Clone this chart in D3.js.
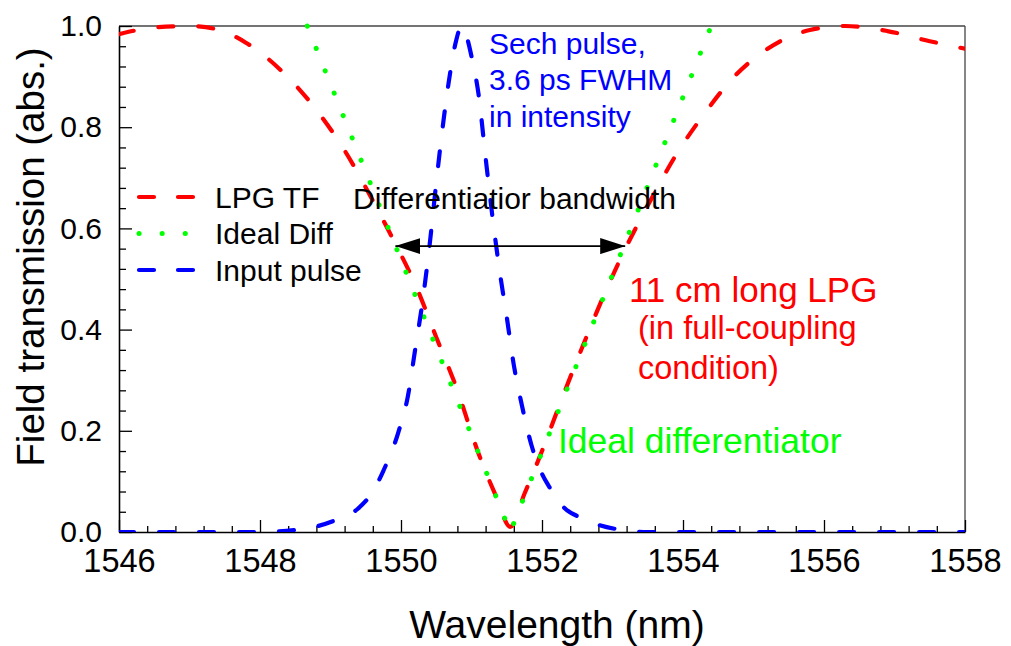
<!DOCTYPE html>
<html>
<head>
<meta charset="utf-8">
<script src="https://cdn.jsdelivr.net/npm/d3@7/dist/d3.min.js"></script>
<style>
  body { margin: 0; background: #fff; }
  svg { display: block; font-family: "Liberation Sans", Arial, sans-serif; }
</style>
</head>
<body>
<svg id="chart" width="1011" height="646"></svg>
<script>
// LPG transfer function (field transmission)
const lpgWavelength = [1546.0, 1546.5, 1547.0, 1547.4, 1547.8, 1548.3, 1548.8, 1549.2, 1549.6, 1549.9,
  1550.2, 1550.5, 1550.8, 1551.1, 1551.35, 1551.55, 1551.75, 1552.0, 1552.3, 1552.6, 1552.9, 1553.2,
  1553.5, 1553.9, 1554.3, 1554.7, 1555.2, 1555.8, 1556.3, 1556.9, 1557.5, 1558.0];
const lpgTransmission = [0.984, 0.997, 1.000, 0.993, 0.967, 0.912, 0.834, 0.754, 0.655, 0.575,
  0.49, 0.385, 0.28, 0.155, 0.07, 0.01, 0.075, 0.16, 0.27, 0.375, 0.475, 0.565,
  0.645, 0.745, 0.826, 0.896, 0.955, 0.992, 1.000, 0.990, 0.970, 0.955];

// Ideal differentiator response
const idealWavelength = [1548.67, 1551.55, 1554.40];
const idealTransmission = [1.0, 0.0, 1.0];

// Input sech pulse spectrum
const pulseWavelength = [1546.0, 1548.0, 1548.5, 1548.8, 1549.1, 1549.38, 1549.6, 1549.75, 1549.96, 1550.1,
  1550.2, 1550.3, 1550.4, 1550.5, 1550.6, 1550.7, 1550.78, 1550.86, 1550.94, 1551.0, 1551.1, 1551.2,
  1551.3, 1551.4, 1551.5, 1551.6, 1551.7, 1551.85, 1552.0, 1552.1, 1552.3, 1552.57, 1553.13, 1553.5, 1558.0];
const pulseAmplitude = [0, 0, 0.004, 0.011, 0.025, 0.045, 0.08, 0.121, 0.196, 0.27,
  0.36, 0.45, 0.56, 0.69, 0.81, 0.91, 0.97, 1.0, 0.975, 0.94, 0.865, 0.74,
  0.62, 0.515, 0.425, 0.33, 0.26, 0.172, 0.115, 0.09, 0.05, 0.027, 0.004, 0, 0];

// Differentiator bandwidth marker
const bandwidthEdges = [1549.92, 1553.18];
const bandwidthLevel = 0.565;

// Axis ticks
const xMajorTicks = [1546, 1548, 1550, 1552, 1554, 1556, 1558];
const yMajorTicks = [0.0, 0.2, 0.4, 0.6, 0.8, 1.0];
const xMinorStep = 0.4;
const yMinorStep = 0.04;

const legendLabels = ["LPG TF", "Ideal Diff", "Input pulse"];

const svg = d3.select("#chart");
const plotLeft = 119, plotRight = 965, plotTop = 26, plotBottom = 532;

const x = d3.scaleLinear().domain([1546, 1558]).range([plotLeft, plotRight]);
const y = d3.scaleLinear().domain([0, 1]).range([plotBottom, plotTop]);

const RED = "#ff0000", GREEN = "#00ff00", BLUE = "#0000ff";

// frame: top and right edges
svg.append("line").attr("x1", plotLeft).attr("x2", plotRight).attr("y1", plotTop).attr("y2", plotTop)
  .attr("stroke", "#444").attr("stroke-width", 1.3);
svg.append("line").attr("x1", plotRight).attr("x2", plotRight).attr("y1", plotTop).attr("y2", plotBottom)
  .attr("stroke", "#444").attr("stroke-width", 1.3);

// minor ticks
const xMinor = d3.range(1546, 1558.001, xMinorStep).filter(v => Math.abs(v / 2 - Math.round(v / 2)) > 1e-6);
const yMinor = d3.range(0, 1.0001, yMinorStep).filter(v => Math.abs(v / 0.2 - Math.round(v / 0.2)) > 1e-6);

svg.append("g").attr("transform", `translate(0,${plotBottom})`)
  .call(d3.axisBottom(x).tickValues(xMinor).tickSizeInner(-6).tickSizeOuter(0).tickFormat(""))
  .call(g => g.select(".domain").remove())
  .call(g => g.selectAll("line").attr("stroke", "#000").attr("stroke-width", 1.3));

svg.append("g").attr("transform", `translate(${plotLeft},0)`)
  .call(d3.axisLeft(y).tickValues(yMinor).tickSizeInner(-7).tickSizeOuter(0).tickFormat(""))
  .call(g => g.select(".domain").remove())
  .call(g => g.selectAll("line").attr("stroke", "#000").attr("stroke-width", 1.3));

// major axes
svg.append("g").attr("transform", `translate(0,${plotBottom})`)
  .call(d3.axisBottom(x).tickValues(xMajorTicks).tickSizeInner(-12).tickSizeOuter(0).tickPadding(17)
    .tickFormat(d3.format("d")))
  .call(g => g.select(".domain").attr("stroke", "#000").attr("stroke-width", 1.6))
  .call(g => g.selectAll("line").attr("stroke", "#000").attr("stroke-width", 1.3))
  .call(g => g.selectAll("text").attr("font-size", 32.5).attr("fill", "#000")
    .attr("font-family", "Liberation Sans, Arial, sans-serif"));

svg.append("g").attr("transform", `translate(${plotLeft},0)`)
  .call(d3.axisLeft(y).tickValues(yMajorTicks).tickSizeInner(-13).tickSizeOuter(0).tickPadding(17)
    .tickFormat(d3.format(".1f")))
  .call(g => g.select(".domain").attr("stroke", "#000").attr("stroke-width", 1.6))
  .call(g => g.selectAll("line").attr("stroke", "#000").attr("stroke-width", 1.3))
  .call(g => g.selectAll("text").attr("font-size", 30).attr("fill", "#000")
    .attr("font-family", "Liberation Sans, Arial, sans-serif"));

// axis titles
svg.append("text").attr("x", 557).attr("y", 638).attr("text-anchor", "middle")
  .attr("font-size", 39).attr("fill", "#000").text("Wavelength (nm)");
svg.append("text").attr("transform", `translate(44,257) rotate(-90)`).attr("text-anchor", "middle")
  .attr("font-size", 38.5).attr("fill", "#000").text("Field transmission (abs.)");

// curves
svg.append("clipPath").attr("id", "plotClip").append("rect")
  .attr("x", plotLeft).attr("y", plotTop - 3).attr("width", plotRight - plotLeft).attr("height", plotBottom - plotTop + 3);

const plot = svg.append("g").attr("clip-path", "url(#plotClip)");

const line = d3.line().x(d => x(d[0])).y(d => y(d[1]));

plot.append("path")
  .datum(d3.zip(lpgWavelength, lpgTransmission))
  .attr("d", line.curve(d3.curveMonotoneX))
  .attr("fill", "none").attr("stroke", RED).attr("stroke-width", 4.2)
  .attr("stroke-linecap", "round").attr("stroke-dasharray", "15,25");

plot.append("path")
  .datum(d3.zip(idealWavelength, idealTransmission))
  .attr("d", line.curve(d3.curveLinear))
  .attr("fill", "none").attr("stroke", GREEN).attr("stroke-width", 5)
  .attr("stroke-linecap", "round").attr("stroke-dasharray", "0.1,24");

plot.append("path")
  .datum(d3.zip(pulseWavelength, pulseAmplitude))
  .attr("d", line.curve(d3.curveMonotoneX))
  .attr("fill", "none").attr("stroke", BLUE).attr("stroke-width", 4.2)
  .attr("stroke-linecap", "round").attr("stroke-dasharray", "15,25");

// bandwidth arrow
const defs = svg.append("defs");
defs.append("marker").attr("id", "arrowHead").attr("viewBox", "0 0 25 16")
  .attr("refX", 25).attr("refY", 8).attr("markerWidth", 25).attr("markerHeight", 16)
  .attr("markerUnits", "userSpaceOnUse").attr("orient", "auto-start-reverse")
  .append("path").attr("d", "M0,0 L25,8 L0,16 Z").attr("fill", "#000");

svg.append("line")
  .attr("x1", x(bandwidthEdges[0])).attr("x2", x(bandwidthEdges[1]))
  .attr("y1", y(bandwidthLevel)).attr("y2", y(bandwidthLevel))
  .attr("stroke", "#000").attr("stroke-width", 1.6)
  .attr("marker-start", "url(#arrowHead)").attr("marker-end", "url(#arrowHead)");

// legend
const legend = svg.append("g");
const legendStyles = [
  { color: RED, width: 4.2, dash: "15,24" },
  { color: GREEN, width: 5, dash: "0.1,23" },
  { color: BLUE, width: 4.2, dash: "15,24" }
];
legendLabels.forEach((label, i) => {
  const ly = 197 + i * 36.5;
  const s = legendStyles[i];
  legend.append("line").attr("x1", 139).attr("x2", 196).attr("y1", ly).attr("y2", ly)
    .attr("stroke", s.color).attr("stroke-width", s.width)
    .attr("stroke-linecap", "round").attr("stroke-dasharray", s.dash);
  legend.append("text").attr("x", 215).attr("y", ly + 10.5).attr("font-size", 30)
    .attr("fill", "#000").text(label);
});

// annotations
const notes = [
  { text: "Sech pulse,", x: 489, y: 54, size: 30, color: BLUE },
  { text: "3.6 ps FWHM", x: 489, y: 90, size: 30, color: BLUE },
  { text: "in intensity", x: 489, y: 127, size: 30, color: BLUE },
  { text: "Differentiatior bandwidth", x: 353, y: 209, size: 30, color: "#000" },
  { text: "11 cm long LPG", x: 629, y: 302, size: 35, color: RED },
  { text: "(in full-coupling", x: 638, y: 339, size: 32.5, color: RED },
  { text: "condition)", x: 638, y: 379, size: 32.5, color: RED },
  { text: "Ideal differentiator", x: 558, y: 453, size: 35.5, color: GREEN }
];
svg.append("g").selectAll("text").data(notes).join("text")
  .attr("x", d => d.x).attr("y", d => d.y).attr("font-size", d => d.size)
  .attr("fill", d => d.color).text(d => d.text);
</script>
</body>
</html>
